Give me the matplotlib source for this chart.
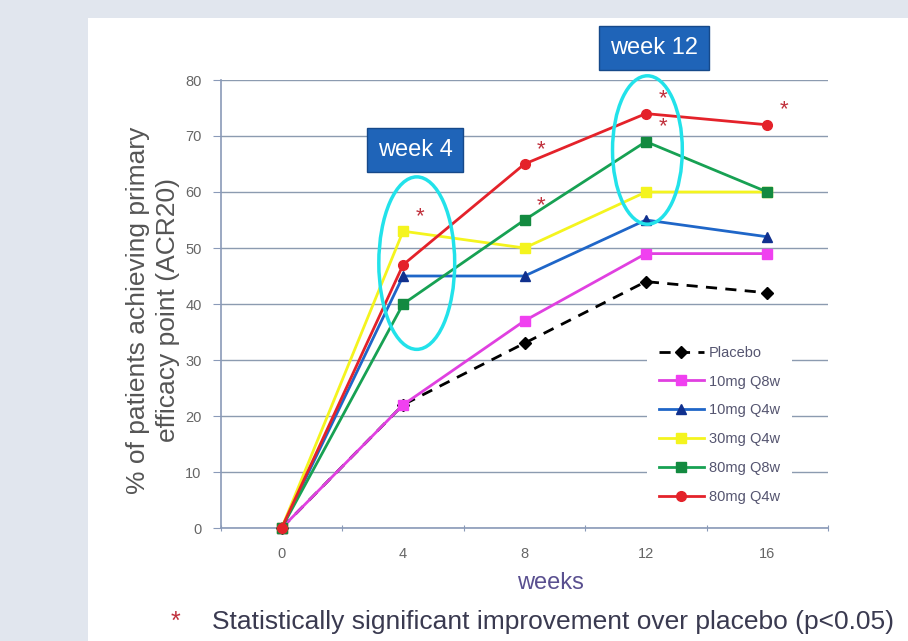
import matplotlib.pyplot as plt
from matplotlib.patches import Ellipse, Rectangle

plt.rcParams['font.family'] = ['Liberation Sans', 'DejaVu Sans']

# data
weeks = [0, 4, 8, 12, 16]
placebo = [0, 22, 33, 44, 42]
mg10_q8w = [0, 22, 37, 49, 49]
mg10_q4w = [0, 45, 45, 55, 52]
mg30_q4w = [0, 53, 50, 60, 60]
mg80_q8w = [0, 40, 55, 69, 60]
mg80_q4w = [0, 47, 65, 74, 72]
yticks = [0, 10, 20, 30, 40, 50, 60, 70, 80]

# significant points (series name, week)
signif = [('30mg Q4w', 4), ('80mg Q4w', 8), ('80mg Q8w', 8),
          ('80mg Q4w', 12), ('80mg Q8w', 12), ('80mg Q4w', 16)]

series = [
    ('Placebo', placebo, 'black', 'black', 'D', 6, (0, (4, 3))),
    ('10mg Q8w', mg10_q8w, '#e040e0', '#f040f0', 's', 7, '-'),
    ('10mg Q4w', mg10_q4w, '#1f66c8', '#10308e', '^', 7, '-'),
    ('30mg Q4w', mg30_q4w, '#f4f41e', '#f4f41e', 's', 7, '-'),
    ('80mg Q8w', mg80_q8w, '#17a153', '#138a40', 's', 7, '-'),
    ('80mg Q4w', mg80_q4w, '#e4222a', '#e4222a', 'o', 7, '-'),
]

fig = plt.figure(figsize=(9.08, 6.41), dpi=100)
fig.patch.set_facecolor('#e1e6ee')
fig.patches.append(Rectangle((88 / 908, 0), 1, 1 - 18 / 641, transform=fig.transFigure,
                             facecolor='white', edgecolor='none', zorder=-10))

ax = fig.add_axes([221 / 908, 1 - 528 / 641, 607 / 908, 448 / 641])
ax.set_facecolor('none')

lookup = {}
for name, vals, lc, mc, mk, ms, ls in series:
    ax.plot(weeks, vals, color=lc, linestyle=ls, linewidth=2, marker=mk, markersize=ms,
            markerfacecolor=mc, markeredgecolor=mc, label=name, zorder=3, clip_on=False)
    lookup[name] = vals

for name, wk in signif:
    v = lookup[name][weeks.index(wk)]
    ax.annotate('*', (wk, v), xytext=(9, 3), textcoords='offset points',
                color='#c0303c', fontsize=16, ha='left', va='bottom')

# circles around week 4 and week 12
ax.add_patch(Ellipse((4.45, 47.3), 2.5, 30.8, fill=False, edgecolor='#22e2ea',
                     linewidth=2.5, zorder=4, clip_on=False))
ax.add_patch(Ellipse((12.05, 67.5), 2.3, 26.5, fill=False, edgecolor='#22e2ea',
                     linewidth=2.5, zorder=4, clip_on=False))

ax.set_xlim(-2, 18)
ax.set_ylim(0, 80)
ax.set_yticks(yticks)
ax.set_xticks([-2, 2, 6, 10, 14, 18])
ax.set_xticklabels([])
ax.set_xticks(weeks, minor=True)
ax.set_xticklabels([str(w) for w in weeks], minor=True)
ax.tick_params(axis='x', which='minor', length=0, pad=14, labelsize=10.5, labelcolor='#666666')
ax.tick_params(axis='x', which='major', length=5, direction='inout', color='#8a9ab8')
ax.tick_params(axis='y', length=6, pad=8, labelsize=10.5, labelcolor='#666666', color='#8a9ab8')

ax.grid(axis='y', color='#8c9bb0', linewidth=1)
ax.set_axisbelow(True)
for s in ['top', 'right']:
    ax.spines[s].set_visible(False)
for s in ['left', 'bottom']:
    ax.spines[s].set_color('#8a9ab8')
    ax.spines[s].set_linewidth(1.2)

leg = ax.legend(loc='upper left', bbox_to_anchor=(647 / 908, 1 - 334 / 641),
                bbox_transform=fig.transFigure, fontsize=10.5, handlelength=3.1,
                handletextpad=0.35, labelspacing=1.02, borderpad=0.8, borderaxespad=0,
                frameon=True, fancybox=False, framealpha=1, facecolor='white', edgecolor='none')
leg.set_zorder(5)
for t in leg.get_texts():
    t.set_color('#555570')

fig.text(153 / 908, 1 - 310 / 641, '% of patients achieving primary\nefficacy point (ACR20)',
         rotation=90, ha='center', va='center', ma='center', fontsize=19, color='#555555',
         linespacing=1.3)
fig.text(550 / 908, 1 - 583 / 641, 'weeks', ha='center', va='center', fontsize=17, color='#5a5090')

# week labels as blue boxes
box = dict(boxstyle='square,pad=0.45', facecolor='#1f64b8', edgecolor='#16498a', linewidth=1)
fig.text(415 / 908, 1 - 150 / 641, 'week 4', ha='center', va='center', fontsize=17,
         color='white', bbox=box)
fig.text(654 / 908, 1 - 48 / 641, 'week 12', ha='center', va='center', fontsize=17,
         color='white', bbox=box)

fig.text(175 / 908, 1 - 622 / 641, '*', ha='center', va='center', fontsize=18, color='#c0303c')
fig.text(212 / 908, 1 - 622 / 641, 'Statistically significant improvement over placebo (p<0.05)',
         ha='left', va='center', fontsize=19, color='#3a3a50')

fig.savefig('out.png', dpi=100, facecolor=fig.get_facecolor())
